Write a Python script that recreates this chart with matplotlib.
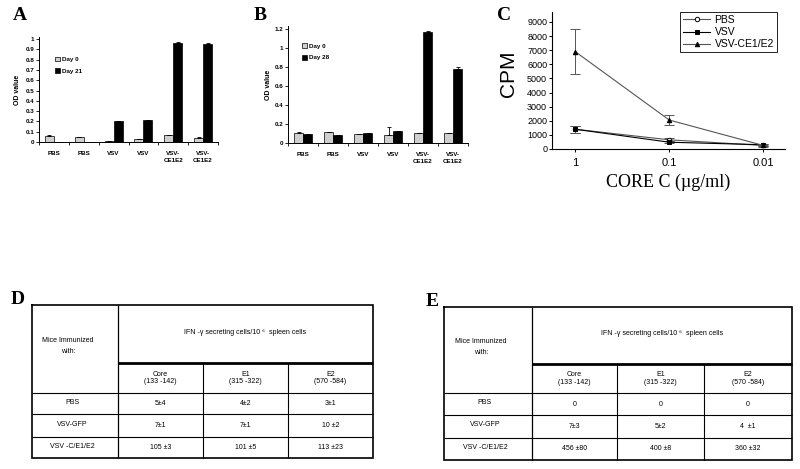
import numpy as np
import matplotlib
matplotlib.use("Agg")
import matplotlib.pyplot as plt
from matplotlib import font_manager
from matplotlib.ticker import FuncFormatter, NullLocator

plt.rcParams['font.family'] = ['Liberation Sans', 'DejaVu Sans']

W, H = 800, 469

# --- panels A and B: OD values per mouse group
groups = ["PBS", "PBS", "VSV", "VSV", "VSV-\nCE1E2", "VSV-\nCE1E2"]
a_day0 = [0.06, 0.045, 0.01, 0.03, 0.065, 0.04]
a_day0_err = [0.008, 0.005, 0.002, 0.003, 0.004, 0.004]
a_day21 = [0, 0, 0.2, 0.21, 0.965, 0.955]
a_day21_err = [0, 0, 0.005, 0.005, 0.008, 0.003]

b_day0 = [0.11, 0.115, 0.09, 0.085, 0.105, 0.105]
b_day0_err = [0.004, 0.004, 0.003, 0.085, 0.004, 0.004]
b_day28 = [0.095, 0.085, 0.10, 0.125, 1.165, 0.78]
b_day28_err = [0.003, 0.003, 0.003, 0.003, 0.01, 0.015]

# --- panel C: proliferation (CPM) vs core C concentration
conc = [1, 0.1, 0.01]
conc_labels = ["1", "0.1", "0.01"]
cpm_pbs = [1400, 650, 250]
cpm_pbs_err = [250, 100, 80]
cpm_vsv = [1400, 480, 300]
cpm_vsv_err = [250, 80, 80]
cpm_vsv_ce = [6900, 2050, 250]
cpm_vsv_ce_err = [1600, 350, 50]

# --- tables D and E: IFN-gamma ELISPOT
epitopes = ["Core\n(133 -142)", "E1\n(315 -322)", "E2\n(570 -584)"]
immunized = ["PBS", "VSV-GFP", "VSV -C/E1/E2"]
d_spots = [["5±4", "4±2", "3±1"],
           ["7±1", "7±1", "10 ±2"],
           ["105 ±3", "101 ±5", "113 ±23"]]
e_spots = [["0", "0", "0"],
           ["7±3", "5±2", "4  ±1"],
           ["456 ±80", "400 ±8", "360 ±32"]]

fig = plt.figure(figsize=(W / 100, H / 100), dpi=100)


def px_axes(x0, y0, x1, y1):
    return fig.add_axes([x0 / W, 1 - y1 / H, (x1 - x0) / W, (y1 - y0) / H])


# overlay for tables
tab = fig.add_axes([0, 0, 1, 1])
tab.set_xlim(0, W)
tab.set_ylim(H, 0)
tab.axis("off")


def bar_panel(box, d0, e0, d1, e1, ymax, step, names, leg_xy, ylab_x):
    ax = px_axes(*box)
    x = np.arange(len(groups))
    w = 0.3
    ax.bar(x - w / 2, d0, w, color="#cfcfcf", edgecolor="black", linewidth=0.5, label=names[0])
    ax.bar(x + w / 2, d1, w, color="black", edgecolor="black", linewidth=0.5, label=names[1])
    ax.errorbar(x - w / 2, d0, yerr=[np.zeros(len(d0)), e0], fmt="none", ecolor="black",
                elinewidth=0.6, capsize=1.5, capthick=0.6)
    ax.errorbar(x + w / 2, d1, yerr=[np.zeros(len(d1)), e1], fmt="none", ecolor="black",
                elinewidth=0.6, capsize=1.5, capthick=0.6)
    ax.set_xlim(-0.5, len(groups) - 0.5)
    ax.set_ylim(0, ymax)
    ax.set_yticks(np.round(np.arange(0, ymax, step), 2))
    ax.yaxis.set_major_formatter(FuncFormatter(lambda v, p: f"{v:g}"))
    ax.set_xticks(x)
    ax.set_xticklabels(groups, fontsize=4.5, fontweight="bold", linespacing=1.5)
    ax.set_xticks(np.arange(len(groups) + 1) - 0.5, minor=True)
    ax.tick_params(axis="x", which="major", length=0, pad=6.5)
    ax.tick_params(axis="x", which="minor", length=2.5, width=0.6)
    ax.tick_params(axis="y", length=2, width=0.6, labelsize=4.5, pad=1.5)
    for t in ax.get_yticklabels():
        t.set_fontweight("bold")
    for s in ["top", "right"]:
        ax.spines[s].set_visible(False)
    for s in ["left", "bottom"]:
        ax.spines[s].set_linewidth(0.7)
    ax.set_ylabel("OD value", fontsize=5, fontweight="bold")
    ax.yaxis.set_label_coords(ylab_x, 0.5)
    ax.legend(frameon=False, loc="center left", bbox_to_anchor=leg_xy,
              handlelength=0.8, handleheight=0.8, handletextpad=0.3, labelspacing=1.0,
              borderpad=0, prop={"weight": "bold", "size": 4.5})
    return ax


bar_panel((39, 37, 218, 142), a_day0, a_day0_err, a_day21, a_day21_err,
          1.02, 0.1, ["Day 0", "Day 21"], (0.07, 0.73), -0.1)
bar_panel((288, 26, 468, 143), b_day0, b_day0_err, b_day28, b_day28_err,
          1.23, 0.2, ["Day 0", "Day 28"], (0.06, 0.78), -0.09)

# panel C
axc = px_axes(552, 12, 785, 149)
line_styles = [("PBS", cpm_pbs, cpm_pbs_err, "o", "white", "#555555"),
               ("VSV", cpm_vsv, cpm_vsv_err, "s", "black", "black"),
               ("VSV-CE1/E2", cpm_vsv_ce, cpm_vsv_ce_err, "^", "black", "#555555")]
for name, vals, err, mk, mfc, lc in line_styles:
    axc.errorbar(conc, vals, yerr=err, fmt="none", ecolor="#555555", elinewidth=0.7,
                 capsize=3.5, capthick=0.7)
    axc.plot(conc, vals, color=lc, lw=0.8, marker=mk, mfc=mfc, mec="black", ms=3.2,
             mew=0.7, label=name)
axc.set_xscale("log")
axc.set_xlim(1.76, 0.0059)
axc.set_xticks(conc)
axc.set_xticklabels(conc_labels)
axc.xaxis.set_minor_locator(NullLocator())
axc.set_ylim(0, 9700)
axc.set_yticks(range(0, 9001, 1000))
axc.tick_params(axis="x", length=2, width=0.7, labelsize=8, pad=4.5)
axc.tick_params(axis="y", length=2.5, width=0.7, labelsize=6.5, pad=1)
for s in ["top", "right"]:
    axc.spines[s].set_visible(False)
for s in ["left", "bottom"]:
    axc.spines[s].set_linewidth(0.8)
axc.set_ylabel("CPM", fontsize=15)
axc.yaxis.set_label_coords(-0.145, 0.55)
axc.set_xlabel("CORE C (µg/ml)", fontsize=13, family=["Liberation Serif", "DejaVu Serif"])
axc.xaxis.set_label_coords(0.5, -0.18)
leg = axc.legend(loc="upper right", bbox_to_anchor=(0.966, 1.0), fontsize=7.5,
                 handlelength=2.6, labelspacing=0.2, borderpad=0.3, handletextpad=0.4,
                 borderaxespad=0, fancybox=False, edgecolor="black", framealpha=1)
leg.get_frame().set_linewidth(0.6)

# panel letters
letter_font = ["Liberation Serif", "DejaVu Serif"]
for lab, (lx, ly) in zip("ABCDE", [(20, 16), (260, 16), (504, 16), (18, 299), (432, 301)]):
    fig.text(lx / W, 1 - ly / H, lab, fontsize=14, fontweight="bold", family=letter_font,
             ha="center", va="center")

# tables
names_installed = {f.name for f in font_manager.fontManager.ttflist}
if "Liberation Sans Narrow" in names_installed:
    tfont, tsize = ["Liberation Sans Narrow", "DejaVu Sans"], 6.0
else:
    tfont, tsize = ["Liberation Sans", "DejaVu Sans"], 5.0


def draw_table(xs, ys, values):
    left, c1, c2, c3, right = xs
    top, head, sub, r1, r2, bottom = ys
    tab.plot([left, right, right, left, left], [top, top, bottom, bottom, top],
             color="black", lw=1.2, solid_joinstyle="miter")
    tab.vlines(c1, top, bottom, color="black", lw=0.9)
    tab.vlines([c2, c3], head, bottom, color="black", lw=0.8)
    tab.hlines(head, c1, right, color="black", lw=2.0)
    tab.hlines([sub, r1, r2], left, right, color="black", lw=0.8)
    tx = dict(fontsize=tsize, family=tfont, ha="center", va="center")
    tab.text((left + c1) / 2 - 7, (top + sub) / 2 - 3, "Mice Immunized\nwith:",
             linespacing=1.9, **tx)
    tab.text((c1 + right) / 2, (top + head) / 2 - 2,
             "IFN -γ secreting cells/10 ⁶  spleen cells", **tx)
    cols = [c1, c2, c3, right]
    rows = [sub, r1, r2, bottom]
    for j, ep in enumerate(epitopes):
        tab.text((cols[j] + cols[j + 1]) / 2, (head + sub) / 2, ep, linespacing=1.1, **tx)
    for i, name in enumerate(immunized):
        yc = (rows[i] + rows[i + 1]) / 2
        tab.text((left + c1) / 2 - 3, yc - 1.5, name, **tx)
        for j in range(3):
            tab.text((cols[j] + cols[j + 1]) / 2, yc, values[i][j], **tx)


draw_table([32, 118, 203, 288, 373], [305, 363, 393, 414, 437, 458], d_spots)
draw_table([444, 532, 617, 704, 792], [307, 364, 393, 415, 438, 460], e_spots)

fig.savefig("out.png", dpi=100)
